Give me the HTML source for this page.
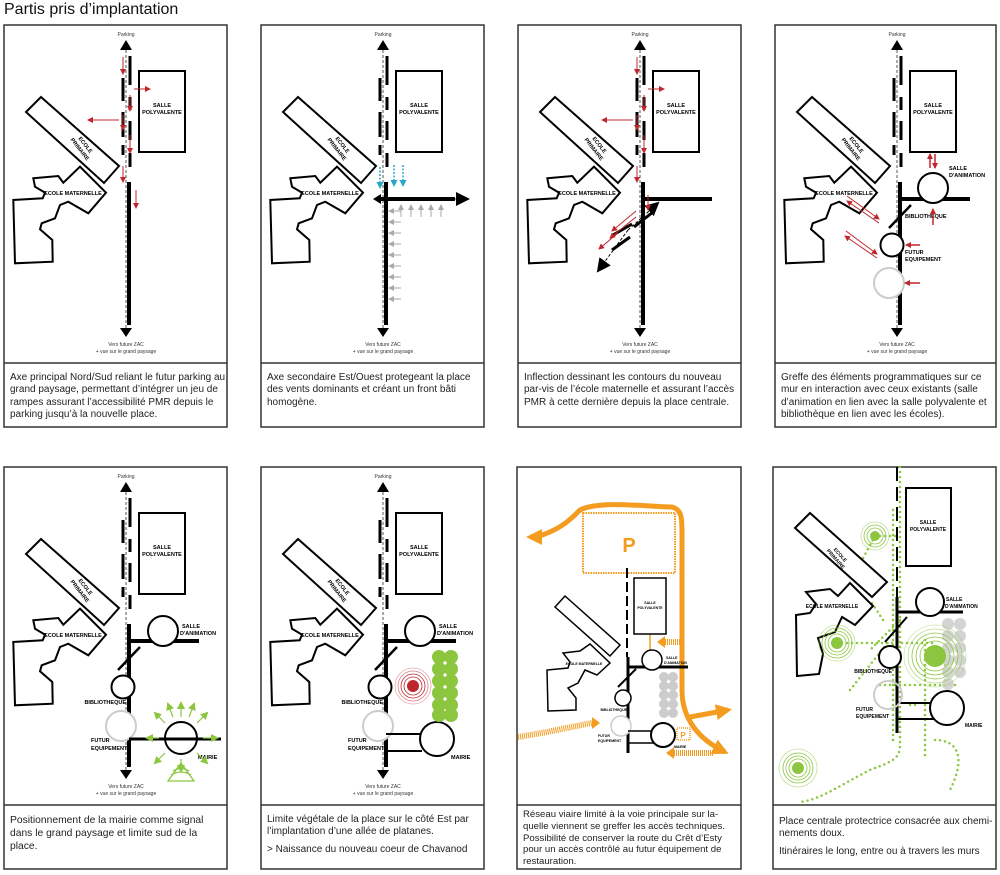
<!DOCTYPE html>
<html><head><meta charset="utf-8"><style>
html,body{margin:0;padding:0;background:#fff;width:1000px;height:875px;overflow:hidden;font-family:"Liberation Sans",Arial,sans-serif}
.t{position:absolute;font-size:10px;line-height:12.3px;color:#222;letter-spacing:0}
</style></head><body>
<div style="position:absolute;left:4px;top:1px;font-size:16px;color:#111">Partis pris d’implantation</div>
<svg width="1000" height="875" style="position:absolute;left:0;top:0" xmlns="http://www.w3.org/2000/svg" font-family="Liberation Sans, Arial, sans-serif">
<defs>
<marker id="ar" markerWidth="6" markerHeight="6" refX="5" refY="3" orient="auto" markerUnits="userSpaceOnUse"><path d="M0,0L6,3L0,6z" fill="#c0272d"/></marker>
<marker id="ab" markerWidth="14" markerHeight="14" refX="12" refY="7" orient="auto" markerUnits="userSpaceOnUse"><path d="M0,0L14,7L0,14z" fill="#000"/></marker>
<marker id="ac" markerWidth="7" markerHeight="7" refX="5" refY="3.5" orient="auto" markerUnits="userSpaceOnUse"><path d="M0,0L7,3.5L0,7z" fill="#2aa6c8"/></marker>
<marker id="ag" markerWidth="6" markerHeight="6" refX="5" refY="3" orient="auto" markerUnits="userSpaceOnUse"><path d="M0,0L6,3L0,6z" fill="#aaa"/></marker>
<marker id="agr" markerWidth="8" markerHeight="8" refX="6" refY="4" orient="auto" markerUnits="userSpaceOnUse"><path d="M0,0L8,4L0,8z" fill="#8cc63f"/></marker>
<marker id="ao" markerWidth="16" markerHeight="16" refX="12" refY="8" orient="auto" markerUnits="userSpaceOnUse"><path d="M0,0L16,8L0,16z" fill="#f39c1f"/></marker>
<g id="base">
<text x="122" y="11" font-size="5" text-anchor="middle" fill="#333">Parking</text>
<path d="M122,15L116,25H128z" fill="#000"/>
<line x1="122" y1="25" x2="122" y2="303" stroke="#555" stroke-width="1" stroke-dasharray="3,2"/>
<path d="M126,31V60M126,72V85M126,96V115M126,128V142M119,53V76M119,87V112M119,120V130" stroke="#000" stroke-width="3"/>
<line x1="125" y1="157" x2="125" y2="300" stroke="#000" stroke-width="4"/>
<path d="M122,312L116,303H128z" fill="#000"/>
<text x="122" y="321" font-size="5" text-anchor="middle" fill="#333">Vers future ZAC</text>
<text x="122" y="328" font-size="5" text-anchor="middle" fill="#333">+ vue sur le grand paysage</text>
<rect x="135" y="46" width="46" height="81" fill="#fff" stroke="#000" stroke-width="2"/>
<text x="158" y="82" font-size="5.5" font-weight="bold" text-anchor="middle">SALLE</text>
<text x="158" y="89" font-size="5.5" font-weight="bold" text-anchor="middle">POLYVALENTE</text>
<polygon points="22,87 37,72 115,141 100,158" fill="#fff" stroke="#000" stroke-width="2"/>
<g transform="translate(80,121) rotate(52)"><text x="0" y="0" font-size="5.5" font-weight="bold" text-anchor="middle">ECOLE</text><text x="0" y="7" font-size="5.5" font-weight="bold" text-anchor="middle">PRIMAIRE</text></g>
<polygon points="29.3,153.3 54.3,151 59.3,157.7 76,141.7 102,167.7 84.3,188.3 64.3,176.7 56,180 51,193.3 37.7,198.3 36,204.3 48.3,215 48.7,236.7 11,238.3 9.3,175 38.7,173.3 41,167.7 31,161.7" fill="#fff" stroke="#000" stroke-width="2"/>
<text x="69" y="170" font-size="5.5" font-weight="bold" text-anchor="middle">ECOLE MATERNELLE</text>
</g>
<g id="redpmr" stroke="#c0272d" stroke-width="1" fill="none">
<path d="M119,32V49" marker-end="url(#ar)"/><path d="M126,70V86" marker-end="url(#ar)"/><path d="M119,90V105" marker-end="url(#ar)"/><path d="M126,110V128" marker-end="url(#ar)"/><path d="M119,141V157" marker-end="url(#ar)"/><path d="M130,64H146" marker-end="url(#ar)"/><path d="M115,95H84" marker-end="url(#ar)"/>
</g>
<g id="prog">
<line x1="125" y1="174" x2="195" y2="174" stroke="#000" stroke-width="4"/>
<line x1="114" y1="203" x2="136" y2="180" stroke="#000" stroke-width="2.5"/>
<circle cx="159" cy="164" r="15" fill="#fff" stroke="#000" stroke-width="2"/>
<circle cx="119" cy="220" r="11.5" fill="#fff" stroke="#000" stroke-width="2"/>
<circle cx="117" cy="259" r="15" fill="#fff" stroke="#ccc" stroke-width="2"/>
<text x="178" y="161" font-size="5.5" font-weight="bold">SALLE</text>
<text x="176" y="168" font-size="5.5" font-weight="bold">D'ANIMATION</text>
<text x="122" y="237" font-size="5.5" font-weight="bold" text-anchor="end">BIBLIOTHEQUE</text>
<text x="87" y="275" font-size="5.5" font-weight="bold">FUTUR</text>
<text x="87" y="283" font-size="5.5" font-weight="bold">EQUIPEMENT</text>
</g>
</defs>

<g fill="none" stroke="#333" stroke-width="1.5">
<rect x="4" y="25" width="223" height="402"/><line x1="4" y1="363" x2="227" y2="363"/>
<rect x="261" y="25" width="223" height="402"/><line x1="261" y1="363" x2="484" y2="363"/>
<rect x="518" y="25" width="223" height="402"/><line x1="518" y1="363" x2="741" y2="363"/>
<rect x="775" y="25" width="221" height="402"/><line x1="775" y1="363" x2="996" y2="363"/>
<rect x="4" y="467" width="223" height="402"/><line x1="4" y1="805" x2="227" y2="805"/>
<rect x="261" y="467" width="223" height="402"/><line x1="261" y1="805" x2="484" y2="805"/>
<rect x="517" y="467" width="224" height="402"/><line x1="517" y1="805" x2="741" y2="805"/>
<rect x="773" y="467" width="223" height="402"/><line x1="773" y1="805" x2="996" y2="805"/>
</g>

<!-- P1 -->
<g transform="translate(4,25)">
<use href="#base"/>
<use href="#redpmr"/>
<path d="M132,165V183" stroke="#c0272d" stroke-width="1" marker-end="url(#ar)"/>
</g>

<!-- P2 -->
<g transform="translate(261,25)">
<use href="#base"/>
<line x1="119" y1="174" x2="194" y2="174" stroke="#000" stroke-width="4"/>
<line x1="194" y1="174" x2="207" y2="174" stroke="#555" stroke-width="1" stroke-dasharray="3,2" marker-end="url(#ab)"/>
<path d="M112,174L120,169V179z" fill="#000"/>
<g stroke="#2aa6c8" stroke-width="1.5" stroke-dasharray="2,1.5">
<path d="M119,142V162" marker-end="url(#ac)"/><path d="M133,140V160" marker-end="url(#ac)"/><path d="M142,140V160" marker-end="url(#ac)"/></g>
<g stroke="#aaa" stroke-width="1">
<path d="M140,192V180" marker-end="url(#ag)"/><path d="M150,192V180" marker-end="url(#ag)"/><path d="M160,192V180" marker-end="url(#ag)"/><path d="M170,192V180" marker-end="url(#ag)"/><path d="M180,192V180" marker-end="url(#ag)"/>
<path d="M140,186H128" marker-end="url(#ag)"/><path d="M140,197H128" marker-end="url(#ag)"/><path d="M140,208H128" marker-end="url(#ag)"/><path d="M140,219H128" marker-end="url(#ag)"/><path d="M140,230H128" marker-end="url(#ag)"/><path d="M140,241H128" marker-end="url(#ag)"/><path d="M140,252H128" marker-end="url(#ag)"/><path d="M140,263H128" marker-end="url(#ag)"/><path d="M140,274H128" marker-end="url(#ag)"/>
</g>
</g>

<!-- P3 -->
<g transform="translate(518,25)">
<use href="#base"/>
<line x1="125" y1="174" x2="194" y2="174" stroke="#000" stroke-width="4"/>
<path d="M95,210L114,199M94,225L112,212M116,202L135,187" stroke="#000" stroke-width="3"/>
<line x1="110" y1="205" x2="80" y2="246" stroke="#000" stroke-width="1" stroke-dasharray="3,2" marker-end="url(#ab)"/>
<line x1="110" y1="205" x2="140" y2="178" stroke="#000" stroke-width="1" stroke-dasharray="3,2" marker-end="url(#ab)"/>
<use href="#redpmr"/>
<g stroke="#c0272d" stroke-width="1" fill="none">
<path d="M130,170V185" marker-end="url(#ar)"/><path d="M118,186L94,206" marker-end="url(#ar)"/><path d="M118,192L92,213" marker-end="url(#ar)"/><path d="M100,208L81,224" marker-end="url(#ar)"/>
</g>
</g>

<!-- P4 -->
<g transform="translate(775,25)">
<use href="#base"/>
<line x1="125" y1="174" x2="195" y2="174" stroke="#000" stroke-width="4"/>
<line x1="114" y1="203" x2="136" y2="180" stroke="#000" stroke-width="2.5"/>
<circle cx="158" cy="163" r="15" fill="#fff" stroke="#000" stroke-width="2"/>
<circle cx="117" cy="220" r="11.5" fill="#fff" stroke="#000" stroke-width="2"/>
<circle cx="114" cy="258" r="15" fill="#fff" stroke="#ccc" stroke-width="2"/>
<text x="174" y="145" font-size="5.5" font-weight="bold">SALLE</text>
<text x="174" y="152" font-size="5.5" font-weight="bold">D'ANIMATION</text>
<text x="130" y="193" font-size="5.5" font-weight="bold">BIBLIOTHEQUE</text>
<text x="130" y="229" font-size="5.5" font-weight="bold">FUTUR</text>
<text x="130" y="236" font-size="5.5" font-weight="bold">EQUIPEMENT</text>
<g stroke="#c0272d" stroke-width="1.5" fill="none">
<path d="M155,143V129" marker-end="url(#ar)"/><path d="M160,129V143" marker-end="url(#ar)"/><path d="M158,200V184" marker-end="url(#ar)"/><path d="M145,220H131" marker-end="url(#ar)"/><path d="M145,258H130" marker-end="url(#ar)"/>
</g>
<g stroke="#c0272d" stroke-width="1" fill="none">
<path d="M72,171L104,194" marker-end="url(#ar)"/><path d="M104,198L72,176" marker-end="url(#ar)"/><path d="M71,206L102,229" marker-end="url(#ar)"/><path d="M102,233L70,211" marker-end="url(#ar)"/>
</g>
</g>

<!-- P5 -->
<g transform="translate(4,467)">
<use href="#base"/>
<use href="#prog"/>
<line x1="125" y1="272" x2="217" y2="272" stroke="#000" stroke-width="3"/>
<circle cx="177" cy="271" r="16" fill="none" stroke="#000" stroke-width="2"/>
<text x="194" y="292" font-size="5.5" font-weight="bold">MAIRIE</text>
<g stroke="#8cc63f" stroke-width="1.2">
<path d="M177,250V236" marker-end="url(#agr)"/><path d="M193,256L203,246" marker-end="url(#agr)"/><path d="M199,271H213" marker-end="url(#agr)"/><path d="M193,286L203,296" marker-end="url(#agr)"/><path d="M177,292V304" marker-end="url(#agr)"/><path d="M161,286L151,296" marker-end="url(#agr)"/><path d="M155,271H143" marker-end="url(#agr)"/><path d="M161,256L151,246" marker-end="url(#agr)"/><path d="M169,250L164,237" marker-end="url(#agr)"/><path d="M185,250L190,237" marker-end="url(#agr)"/>
</g>
<g fill="none" stroke="#8cc63f" stroke-width="1.3"><path d="M177,296L164,314H190z"/><path d="M167,308Q177,302 187,308M169,304Q177,299 185,304"/></g>
</g>

<!-- P6 -->
<g transform="translate(261,467)">
<use href="#base"/>
<use href="#prog"/>
<path d="M125,267H161M125,284H161" stroke="#000" stroke-width="2"/>
<circle cx="176" cy="272" r="17" fill="#fff" stroke="#000" stroke-width="2"/>
<text x="190" y="292" font-size="5.5" font-weight="bold">MAIRIE</text>
<g fill="none" stroke="#c0272d" stroke-width="0.8"><circle cx="152" cy="219" r="18" opacity="0.4"/><circle cx="152" cy="219" r="15" opacity="0.6"/><circle cx="152" cy="219" r="12"/><circle cx="152" cy="219" r="9"/></g>
<circle cx="152" cy="219" r="6" fill="#c0272d"/>
<g fill="#8cc63f"><circle cx="178" cy="190" r="7"/><circle cx="190" cy="190" r="7"/><circle cx="178" cy="202" r="7"/><circle cx="190" cy="202" r="7"/><circle cx="178" cy="214" r="7"/><circle cx="190" cy="214" r="7"/><circle cx="178" cy="226" r="7"/><circle cx="190" cy="226" r="7"/><circle cx="178" cy="238" r="7"/><circle cx="190" cy="238" r="7"/><circle cx="178" cy="248" r="7"/><circle cx="190" cy="248" r="7"/></g>
</g>

<!-- P7 -->
<g>
<rect x="583" y="513" width="92" height="60" fill="none" stroke="#f39c1f" stroke-width="2" stroke-dasharray="1.5,1"/>
<text x="629" y="552" font-size="20" font-weight="bold" fill="#f39c1f" text-anchor="middle">P</text>
<path d="M536,537C560,530 570,520 580,510C600,500 650,507 672,507C683,510 682,520 682,540V690C682,720 700,740 725,752" fill="none" stroke="#f39c1f" stroke-width="5" marker-end="url(#ao)"/>
<path d="M690,717L728,710" stroke="#f39c1f" stroke-width="5" marker-end="url(#ao)"/>
<path d="M538,537L530,537" stroke="#f39c1f" stroke-width="5" marker-end="url(#ao)"/>
<path d="M518,737C550,732 570,727 592,723" stroke="#f39c1f" stroke-width="6" stroke-dasharray="1,1" fill="none"/>
<path d="M592,717L600,723L592,729z" fill="#f39c1f"/>
<path d="M713,753H672" stroke="#f39c1f" stroke-width="6" stroke-dasharray="1,1"/><path d="M674,747L666,753L674,759z" fill="#f39c1f"/>
<path d="M682,642H663" stroke="#f39c1f" stroke-width="6" stroke-dasharray="1,1"/><path d="M665,636L657,642L665,648z" fill="#f39c1f"/>
<path d="M650,627V653" stroke="#f39c1f" stroke-width="1.5"/><path d="M647,630L650,625L653,630zM647,650L650,655L653,650z" fill="#f39c1f"/>
<line x1="627" y1="568" x2="627" y2="657" stroke="#000" stroke-width="2" stroke-dasharray="10,4"/>
<line x1="628" y1="657" x2="628" y2="753" stroke="#000" stroke-width="3"/>
<line x1="628" y1="667" x2="688" y2="667" stroke="#000" stroke-width="3"/>
<line x1="618" y1="687" x2="636" y2="669" stroke="#000" stroke-width="2"/>
<rect x="634" y="578" width="32" height="56" fill="#fff" stroke="#000" stroke-width="1.5"/>
<text x="650" y="604" font-size="3.5" font-weight="bold" text-anchor="middle">SALLE</text><text x="650" y="609" font-size="3.5" font-weight="bold" text-anchor="middle">POLYVALENTE</text>
<polygon points="555,607 565,596 620,645 610,656" fill="#fff" stroke="#000" stroke-width="1.5"/>
<polygon points="563,653 580,651 590,644 610,663 597,675 585,670 578,683 568,688 576,698 576,710 548,711 547,670 568,668 570,662" fill="#fff" stroke="#000" stroke-width="1.5"/>
<text x="584" y="665" font-size="3.5" font-weight="bold" text-anchor="middle">ECOLE MATERNELLE</text>
<g fill="#ccc"><circle cx="664" cy="677" r="5"/><circle cx="673" cy="677" r="5"/><circle cx="664" cy="686" r="5"/><circle cx="673" cy="686" r="5"/><circle cx="664" cy="695" r="5"/><circle cx="673" cy="695" r="5"/><circle cx="664" cy="704" r="5"/><circle cx="673" cy="704" r="5"/><circle cx="664" cy="713" r="5"/><circle cx="673" cy="713" r="5"/></g>
<circle cx="652" cy="660" r="10" fill="#fff" stroke="#000" stroke-width="1.5"/>
<circle cx="623" cy="698" r="8" fill="#fff" stroke="#000" stroke-width="1.5"/>
<circle cx="621" cy="726" r="10" fill="#fff" stroke="#ccc" stroke-width="1.5"/>
<path d="M628,731H656M628,743H656" stroke="#000" stroke-width="1.5"/>
<circle cx="663" cy="735" r="12" fill="#fff" stroke="#000" stroke-width="2"/>
<rect x="677" y="728" width="13" height="12" fill="none" stroke="#f39c1f" stroke-width="1.5" stroke-dasharray="1,1"/>
<text x="683" y="738" font-size="8" font-weight="bold" fill="#f39c1f" text-anchor="middle">P</text>
<text x="666" y="659" font-size="3.5" font-weight="bold">SALLE</text><text x="664" y="664" font-size="3.5" font-weight="bold">D'ANIMATION</text>
<text x="627" y="711" font-size="3.5" font-weight="bold" text-anchor="end">BIBLIOTHEQUE</text>
<text x="598" y="737" font-size="3.5" font-weight="bold">FUTUR</text><text x="598" y="742" font-size="3.5" font-weight="bold">EQUIPEMENT</text>
<text x="674" y="748" font-size="3.5" font-weight="bold">MAIRIE</text>
</g>

<!-- P8 -->
<g>
<g fill="none" stroke="#8cc63f" stroke-width="2.5" stroke-linecap="round" stroke-dasharray="0,5">
<path d="M900,467V745C900,760 890,762 870,770C840,785 820,800 800,802"/>
<path d="M893,510V745"/>
<path d="M875,536H900M875,536L862,560"/>
<path d="M837,643H935M850,690L890,640M900,620L870,650"/>
<path d="M880,685H960M945,650V690M925,640V760M935,740C960,740 965,760 950,790"/>
<path d="M910,705H920M883,620L870,600"/>
</g>
<line x1="897" y1="467" x2="897" y2="597" stroke="#000" stroke-width="2" stroke-dasharray="14,6"/>
<line x1="897" y1="597" x2="897" y2="733" stroke="#000" stroke-width="3"/>
<line x1="897" y1="612" x2="963" y2="612" stroke="#000" stroke-width="3"/>
<line x1="885" y1="642" x2="907" y2="617" stroke="#000" stroke-width="2"/>
<path d="M897,703H935M897,719H935" stroke="#000" stroke-width="2"/>
<rect x="906" y="488" width="45" height="78" fill="#fff" stroke="#000" stroke-width="2"/>
<text x="928" y="524" font-size="5" font-weight="bold" text-anchor="middle">SALLE</text><text x="928" y="531" font-size="5" font-weight="bold" text-anchor="middle">POLYVALENTE</text>
<polygon points="810,513 795,528 872,597 887,582" fill="#fff" stroke="#000" stroke-width="2"/>
<g transform="translate(839,556) rotate(48)"><text x="0" y="0" font-size="5" font-weight="bold" text-anchor="middle">ECOLE</text><text x="0" y="6" font-size="5" font-weight="bold" text-anchor="middle">PRIMAIRE</text></g>
<polygon points="806,592 830,589 838,596 850,583 873,606 855,625 842,617 835,632 818,638 823,654 819,674 797,676 796,615 810,613 816,604" fill="#fff" stroke="#000" stroke-width="2"/>
<text x="832" y="608" font-size="5" font-weight="bold" text-anchor="middle">ECOLE MATERNELLE</text>
<g fill="#d0d0d0" opacity="0.9"><circle cx="948" cy="624" r="6"/><circle cx="960" cy="624" r="6"/><circle cx="948" cy="636" r="6"/><circle cx="960" cy="636" r="6"/><circle cx="948" cy="648" r="6"/><circle cx="960" cy="648" r="6"/><circle cx="948" cy="660" r="6"/><circle cx="960" cy="660" r="6"/><circle cx="948" cy="672" r="6"/><circle cx="960" cy="672" r="6"/><circle cx="948" cy="684" r="6"/></g>
<circle cx="930" cy="602" r="14" fill="#fff" stroke="#000" stroke-width="2"/>
<circle cx="890" cy="657" r="11" fill="#fff" stroke="#000" stroke-width="2"/>
<circle cx="888" cy="695" r="14" fill="none" stroke="#ccc" stroke-width="2"/>
<circle cx="947" cy="708" r="17" fill="#fff" stroke="#000" stroke-width="2"/>
<g fill="none" stroke="#8cc63f" stroke-width="0.8">
<circle cx="875" cy="536" r="8"/><circle cx="875" cy="536" r="11"/><circle cx="875" cy="536" r="14" opacity="0.5"/>
<circle cx="837" cy="643" r="9"/><circle cx="837" cy="643" r="12"/><circle cx="837" cy="643" r="15"/><circle cx="837" cy="643" r="18" opacity="0.5"/>
<circle cx="935" cy="656" r="15"/><circle cx="935" cy="656" r="19"/><circle cx="935" cy="656" r="23"/><circle cx="935" cy="656" r="27" opacity="0.6"/><circle cx="935" cy="656" r="31" opacity="0.4"/>
<circle cx="798" cy="768" r="9"/><circle cx="798" cy="768" r="12"/><circle cx="798" cy="768" r="15"/><circle cx="798" cy="768" r="19" opacity="0.5"/>
</g>
<g fill="#8cc63f"><circle cx="875" cy="536" r="5"/><circle cx="837" cy="643" r="6"/><circle cx="935" cy="656" r="11"/><circle cx="798" cy="768" r="6"/></g>
<text x="946" y="601" font-size="5" font-weight="bold">SALLE</text><text x="945" y="608" font-size="5" font-weight="bold">D'ANIMATION</text>
<text x="892" y="673" font-size="5" font-weight="bold" text-anchor="end">BIBLIOTHEQUE</text>
<text x="856" y="711" font-size="5" font-weight="bold">FUTUR</text><text x="856" y="718" font-size="5" font-weight="bold">EQUIPEMENT</text>
<text x="965" y="727" font-size="5" font-weight="bold">MAIRIE</text>
</g>
</svg>

<div class="t" style="left:10px;top:372px;width:216px">Axe principal Nord/Sud reliant le futur parking au grand paysage, permettant d’intégrer un jeu de rampes assurant l’accessibilité PMR depuis le parking jusqu’à la nouvelle place.</div>
<div class="t" style="left:267px;top:372px;width:216px">Axe secondaire Est/Ouest protegeant la place des vents dominants et créant un front bâti homogène.</div>
<div class="t" style="left:524px;top:372px;width:216px">Inflection dessinant les contours du nouveau par-vis de l’école maternelle et assurant l’accès PMR à cette dernière depuis la place centrale.</div>
<div class="t" style="left:781px;top:372px;width:214px">Greffe des éléments programmatiques sur ce mur en interaction avec ceux existants (salle d’animation en lien avec la salle polyvalente et bibliothèque en lien avec les écoles).</div>
<div class="t" style="left:10px;top:814px;width:216px;font-size:10.3px;line-height:13px">Positionnement de la mairie comme signal dans le grand paysage et limite sud de la place.</div>
<div class="t" style="left:267px;top:814px;width:216px">Limite végétale de la place sur le côté Est par l’implantation d’une allée de platanes.<div style="margin-top:5px">&gt; Naissance du nouveau coeur de Chavanod</div></div>
<div class="t" style="left:523px;top:809px;width:217px;font-size:9.6px;line-height:11.8px">Réseau viaire limité à la voie principale sur la-quelle viennent se greffer les accès techniques. Possibilité de conserver la route du Crêt d’Esty pour un accès contrôlé au futur équipement de restauration.</div>
<div class="t" style="left:779px;top:816px;width:216px">Place centrale protectrice consacrée aux chemi-nements doux.<div style="margin-top:5px">Itinéraires le long, entre ou à travers les murs</div></div>
</body></html>
